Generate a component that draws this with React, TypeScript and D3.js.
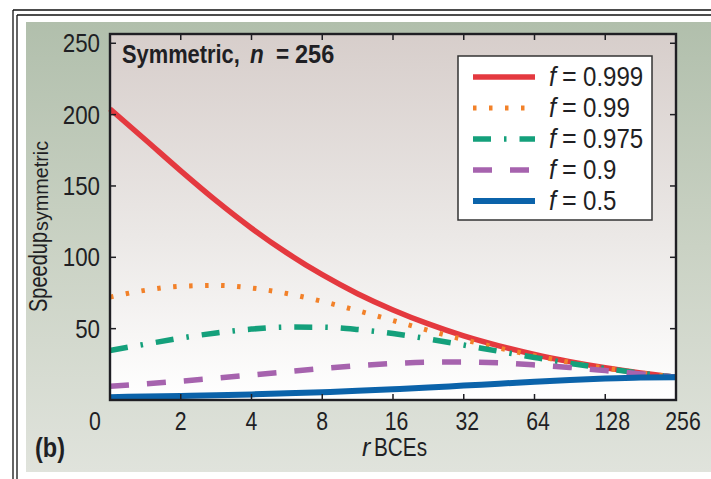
import React, { useEffect } from 'react'
import * as d3 from 'd3'

// r (BCE count) and speedup readings for each f
const rValues = [1, 1.414, 2, 2.828, 4, 5.657, 8, 11.31, 16, 22.63, 32, 45.25, 64, 90.51, 128, 181.0, 256]
const f999 = [204.0, 182.4, 160.6, 139.7, 120.4, 103.1, 87.8, 74.5, 63.1, 53.3, 44.9, 37.9, 31.9, 26.9, 22.6, 19.0, 16.0]
const f99 = [72.1, 76.9, 79.7, 80.3, 78.5, 74.6, 69.1, 62.6, 55.7, 48.8, 42.3, 36.4, 31.1, 26.4, 22.4, 19.0, 16.0]
const f975 = [34.7, 39.1, 43.4, 47.0, 49.7, 51.1, 51.0, 49.4, 46.6, 42.8, 38.5, 34.1, 29.8, 25.7, 22.1, 18.8, 16.0]
const f9 = [9.7, 11.3, 13.2, 15.3, 17.5, 19.8, 22.1, 24.1, 25.6, 26.5, 26.6, 26.0, 24.6, 22.8, 20.6, 18.3, 16.0]
const f5 = [2.0, 2.4, 2.8, 3.3, 3.9, 4.7, 5.5, 6.4, 7.5, 8.7, 10.1, 11.4, 12.8, 14.1, 15.1, 15.8, 16.0]

const xTicks = [2, 4, 8, 16, 32, 64, 128, 256]
const xTickLabels = ['2', '4', '8', '16', '32', '64', '128', '256']
const yTicks = [50, 100, 150, 200, 250]

const SERIES = [
  { label: '0.999', values: f999, color: '#e4393f', dash: null, width: 5.5 },
  { label: '0.99', values: f99, color: '#f28129', dash: '3.5 12.5', width: 5 },
  { label: '0.975', values: f975, color: '#14a07b', dash: '18 13 2.5 13', width: 5.5 },
  { label: '0.9', values: f9, color: '#a663ae', dash: '19 18', width: 5.5 },
  { label: '0.5', values: f5, color: '#0b63aa', dash: null, width: 6 },
]

// no condensed face is installed, so Arial-metric text is squeezed horizontally
const FONT = '"Liberation Sans", Arial, sans-serif'
const INK = '#1f1f24'

const W = 711
const H = 479
const plot = { left: 110, right: 676, top: 34, bottom: 400 }

function CText({ x, y, size, sx = 0.82, anchor = 'start', weight = 'normal', italic = false, rotate = 0, children }: any) {
  return (
    <g transform={`translate(${x},${y}) rotate(${rotate}) scale(${sx},1)`}>
      <text x={0} y={0} textAnchor={anchor} fontFamily={FONT} fontSize={size} fontWeight={weight}
        fontStyle={italic ? 'italic' : 'normal'} fill={INK}>{children}</text>
    </g>
  )
}

export default function App() {
  useEffect(() => {
    document.body.style.margin = '0'
  }, [])

  const x = d3.scaleLog().base(2).domain([1, 256]).range([plot.left, plot.right])
  const y = d3.scaleLinear().domain([0, 256.5]).range([plot.bottom, plot.top])
  const line = d3.line<number>()
    .x((_, i) => x(rValues[i]))
    .y((d) => y(d))
    .curve(d3.curveMonotoneX)

  const innerTicks = xTicks.filter((t) => t < 256)

  return (
    <svg width={W} height={H} style={{ display: 'block', background: '#fff' }}>
      <defs>
        <linearGradient id="panelBg" x1="0" y1="0" x2="0" y2="1">
          <stop offset="0" stopColor="#b1bfac" />
          <stop offset="0.5" stopColor="#cad2c4" />
          <stop offset="1" stopColor="#e0e3dc" />
        </linearGradient>
        <linearGradient id="plotBg" x1="0" y1="0" x2="0" y2="1">
          <stop offset="0" stopColor="#d7cecb" />
          <stop offset="0.55" stopColor="#ebe8e6" />
          <stop offset="1" stopColor="#ffffff" />
        </linearGradient>
      </defs>

      {/* page frame */}
      <line x1={13} y1={10} x2={W} y2={10} stroke="#111" strokeWidth={1.3} />
      <line x1={17} y1={15} x2={W} y2={15} stroke="#111" strokeWidth={1.3} />
      <line x1={13} y1={10} x2={13} y2={H} stroke="#111" strokeWidth={1.3} />
      <line x1={17} y1={15} x2={17} y2={H} stroke="#111" strokeWidth={1.3} />

      <rect x={26} y={22} width={W - 26} height={450} fill="url(#panelBg)" />
      <rect x={plot.left} y={plot.top} width={plot.right - plot.left} height={plot.bottom - plot.top} fill="url(#plotBg)" />

      {/* series */}
      {SERIES.map((s) => (
        <path key={s.label} d={line(s.values) || ''} fill="none" stroke={s.color}
          strokeWidth={s.width} strokeDasharray={s.dash || undefined} strokeLinecap="butt" />
      ))}

      {/* axes frame + inward ticks */}
      <rect x={plot.left} y={plot.top} width={plot.right - plot.left} height={plot.bottom - plot.top}
        fill="none" stroke={INK} strokeWidth={2.4} />
      {yTicks.map((t) => (
        <g key={t}>
          <line x1={plot.left} x2={plot.left + 6} y1={y(t)} y2={y(t)} stroke={INK} strokeWidth={1.5} />
          <line x1={plot.right} x2={plot.right - 6} y1={y(t)} y2={y(t)} stroke={INK} strokeWidth={1.5} />
          <CText x={100} y={y(t) + 9} size={26} sx={0.86} anchor="end">{t}</CText>
        </g>
      ))}
      {innerTicks.map((t) => (
        <g key={t}>
          <line x1={x(t)} x2={x(t)} y1={plot.top} y2={plot.top + 6} stroke={INK} strokeWidth={1.5} />
          <line x1={x(t)} x2={x(t)} y1={plot.bottom} y2={plot.bottom - 6} stroke={INK} strokeWidth={1.5} />
        </g>
      ))}
      {xTicks.map((t, i) => (
        <CText key={t} x={x(t) + (xTickLabels[i].length - 1) * 3.5} y={430} size={25} sx={0.85} anchor="middle">
          {xTickLabels[i]}
        </CText>
      ))}
      <CText x={95} y={430} size={25} sx={0.85} anchor="middle">0</CText>

      {/* axis titles */}
      <CText x={362} y={456} size={25} sx={1} italic>r</CText>
      <CText x={374} y={456} size={25} sx={0.83}>BCEs</CText>
      <CText x={46.5} y={312} size={26} sx={0.77} rotate={-90}>Speedup</CText>
      <CText x={48} y={231} size={20} sx={0.99} rotate={-90}>symmetric</CText>

      <CText x={122} y={63} size={25} sx={0.875} weight="bold">Symmetric,</CText>
      <CText x={250} y={63} size={25} sx={0.9} weight="bold" italic>n</CText>
      <CText x={276} y={63} size={25} sx={0.9} weight="bold">=</CText>
      <CText x={295} y={63} size={25} sx={0.94} weight="bold">256</CText>
      <CText x={35} y={457} size={27} sx={0.87} weight="bold">(b)</CText>

      {/* legend */}
      <rect x={458} y={56} width={194} height={164} fill="#fff" stroke="#333" strokeWidth={1.5} />
      {SERIES.map((s, i) => {
        const cy = 77 + i * 31
        return (
          <g key={s.label}>
            <line x1={473} x2={535} y1={cy} y2={cy} stroke={s.color} strokeWidth={s.width}
              strokeDasharray={s.dash || undefined} />
            <CText x={549} y={cy + 8.5} size={28} sx={0.9} italic>f</CText>
            <CText x={562} y={cy + 8.5} size={28} sx={0.9}>=</CText>
            <CText x={583} y={cy + 8.5} size={28} sx={0.86}>{s.label}</CText>
          </g>
        )
      })}
    </svg>
  )
}
